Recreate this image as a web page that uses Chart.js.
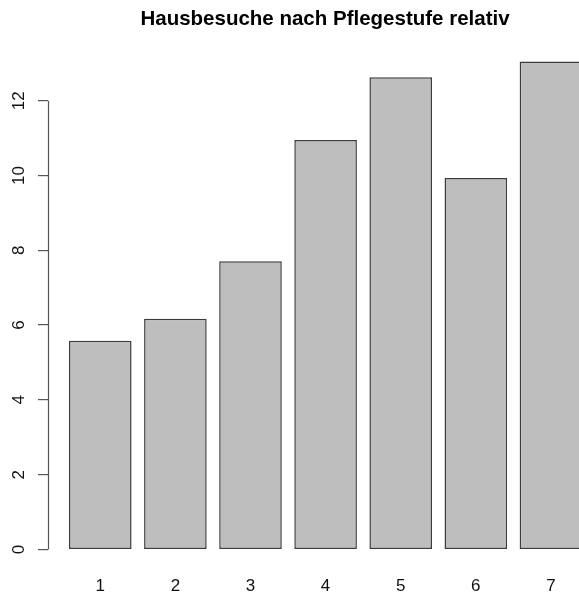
<!DOCTYPE html>
<html>
<head>
<meta charset="utf-8">
<script src="https://cdn.jsdelivr.net/npm/chart.js@4/dist/chart.umd.min.js"></script>
<style>
  html, body { margin: 0; padding: 0; overflow: hidden; background: #fff; width: 579px; height: 597px; }
  #wrap { position: absolute; left: 0; top: 0; width: 640px; height: 597px; }
</style>
</head>
<body>
<div id="wrap"><canvas id="c" width="640" height="597"></canvas></div>
<script>
// ---- data ----
const titleText = 'Hausbesuche nach Pflegestufe relativ';
const categories = ['1', '2', '3', '4', '5', '6', '7'];
const values = [5.58, 6.17, 7.71, 10.95, 12.63, 9.93, 13.05];
const yTicks = [0, 2, 4, 6, 8, 10, 12];

const FONT = "'Liberation Sans', Arial, Helvetica, sans-serif";

const axisLinePlugin = {
  id: 'axisLine',
  afterDraw(chart) {
    const y = chart.scales.y;
    const ctx = chart.ctx;
    const x = Math.round(chart.chartArea.left) + 0.5;
    ctx.save();
    ctx.strokeStyle = '#555';
    ctx.lineWidth = 1.2;
    ctx.beginPath();
    ctx.moveTo(x, y.getPixelForValue(yTicks[0]));
    ctx.lineTo(x, y.getPixelForValue(yTicks[yTicks.length - 1]));
    ctx.stroke();
    ctx.restore();
  }
};

new Chart(document.getElementById('c'), {
  type: 'bar',
  data: {
    datasets: [{
      data: values.map((v, i) => ({ x: i + 1, y: v })),
      backgroundColor: '#bebebe',
      borderColor: '#3c3c3c',
      borderWidth: 1.5,
      borderSkipped: false,
      categoryPercentage: 1,
      barPercentage: 1 / 1.2
    }]
  },
  options: {
    responsive: false,
    animation: false,
    devicePixelRatio: 1,
    layout: { padding: { left: 0, right: 38, top: 0, bottom: 0 } },
    plugins: {
      legend: { display: false },
      tooltip: { enabled: false },
      title: {
        display: true,
        text: titleText,
        fullSize: false,
        color: '#000',
        font: { family: FONT, size: 20.5, weight: 'bold', lineHeight: 1.2 },
        padding: { top: 7.4, bottom: 9.9 }
      }
    },
    scales: {
      x: {
        type: 'linear',
        position: 'bottom',
        offset: false,
        min: 0.304,
        max: 7.68,
        grid: { display: false, drawTicks: false, offset: false },
        border: { display: false },
        afterBuildTicks(scale) { scale.ticks = categories.map((c, i) => ({ value: i + 1 })); },
        afterFit(scale) { scale.height = 28; },
        ticks: {
          color: '#111',
          padding: 7,
          font: { family: FONT, size: 17 },
          callback: (v) => categories[v - 1]
        }
      },
      y: {
        type: 'linear',
        position: 'left',
        min: -0.522,
        max: 13.572,
        grid: { display: true, drawOnChartArea: false, drawTicks: true, tickLength: 10, color: '#555', lineWidth: 1.2 },
        border: { display: false },
        afterBuildTicks(scale) { scale.ticks = yTicks.map(v => ({ value: v })); },
        afterFit(scale) { scale.width = 48; },
        ticks: {
          color: '#111',
          minRotation: 90,
          maxRotation: 90,
          crossAlign: 'center',
          padding: 9.5,
          font: { family: FONT, size: 17 },
          callback: (v) => String(v)
        }
      }
    }
  },
  plugins: [axisLinePlugin]
});
</script>
</body>
</html>
